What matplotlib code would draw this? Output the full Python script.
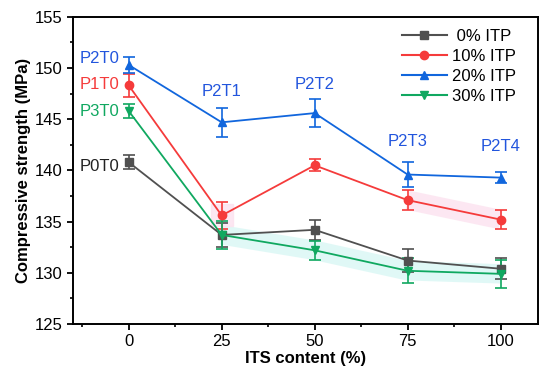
import matplotlib
matplotlib.use("Agg")
import matplotlib.pyplot as plt
from matplotlib.lines import Line2D

plt.rcParams["font.family"] = ["Liberation Sans", "DejaVu Sans"]

its = [0, 25, 50, 75, 100]
itp0 = [140.8, 133.7, 134.2, 131.2, 130.4]
itp0_err = [0.7, 1.2, 1.0, 1.1, 1.0]
itp10 = [148.3, 135.6, 140.5, 137.1, 135.2]
itp10_err = [1.1, 1.3, 0.6, 1.0, 0.9]
itp20 = [150.3, 144.7, 145.6, 139.6, 139.3]
itp20_err = [0.8, 1.4, 1.4, 1.2, 0.5]
itp30 = [145.8, 133.7, 132.2, 130.2, 129.9]
itp30_err = [0.7, 1.4, 0.9, 1.2, 1.4]

labels = [" 0% ITP", "10% ITP", "20% ITP", "30% ITP"]
p2_labels = ["P2T0", "P2T1", "P2T2", "P2T3", "P2T4"]

c0, c10, c20, c30 = "#505050", "#f53b3b", "#1166dd", "#10a860"
ctext = "#2255dd"

fig = plt.figure(figsize=(5.5, 3.75), dpi=100)
ax = fig.add_axes([0.1327, 0.136, 0.845, 0.819])

# faint highlight bands seen in the source image
ax.plot(its[1:], itp30[1:], color="#d4f6f3", lw=14, alpha=0.7, zorder=1,
        solid_capstyle="butt")
ax.plot(its[3:], itp10[3:], color="#fce2ef", lw=14, alpha=0.8, zorder=1,
        solid_capstyle="butt")
ax.plot([25], [itp10[1]], "s", color="#fce2ef", ms=16, alpha=0.8, zorder=1)

series = [
    (itp0, itp0_err, c0, "s"),
    (itp10, itp10_err, c10, "o"),
    (itp20, itp20_err, c20, "^"),
    (itp30, itp30_err, c30, "v"),
]
handles = []
for (vals, err, col, mk), lab in zip(series, labels):
    ax.errorbar(its, vals, yerr=err, color=col, marker=mk, ms=6, lw=1.3,
                capsize=4, capthick=1.2, elinewidth=1.2, zorder=3)
    handles.append(Line2D([], [], color=col, marker=mk, ms=6, lw=1.5, label=lab))

# labels at x = 0
fs = 12
ax.text(-2.5, 150.9, "P2T0", color=ctext, ha="right", va="center", fontsize=fs)
ax.text(-2.5, 148.35, "P1T0", color=c10, ha="right", va="center", fontsize=fs)
ax.text(-2.5, 145.75, "P3T0", color=c30, ha="right", va="center", fontsize=fs)
ax.text(-2.5, 140.4, "P0T0", color="#222222", ha="right", va="center", fontsize=fs)
offsets = [3.0, 2.8, 3.2, 3.0]
for x, y, t, off in zip(its[1:], itp20[1:], p2_labels[1:], offsets):
    ax.text(x, y + off, t, color=ctext, ha="center", va="center", fontsize=fs)

ax.set_xlim(-15, 110)
ax.set_ylim(125, 155)
ax.set_xticks(its)
ax.set_xticks([-12.5, 12.5, 37.5, 62.5, 87.5], minor=True)
ax.set_yticks(range(125, 156, 5))
ax.set_yticks([127.5, 132.5, 137.5, 142.5, 147.5, 152.5], minor=True)
ax.tick_params(which="major", direction="out", length=4, width=1.3, labelsize=12)
ax.tick_params(which="minor", direction="out", length=2.5, width=1.2)
for s in ax.spines.values():
    s.set_linewidth(1.4)

ax.set_xlabel("ITS content (%)", fontsize=12, fontweight="bold", labelpad=1)
ax.set_ylabel("Compressive strength (MPa)", fontsize=12, fontweight="bold", labelpad=3)

ax.legend(handles=handles, loc="upper right", frameon=False, fontsize=12,
          handlelength=2.7, handletextpad=0.3, labelspacing=0.3,
          bbox_to_anchor=(0.985, 1.01))

fig.savefig("out.png", dpi=100)
